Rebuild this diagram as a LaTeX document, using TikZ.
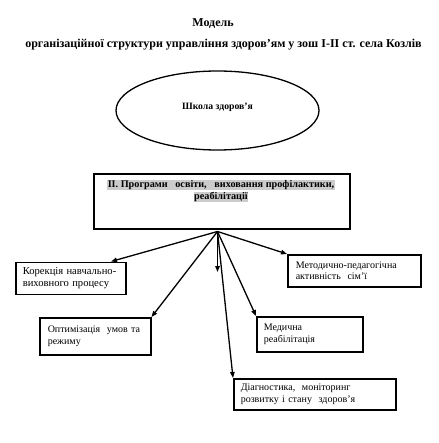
\documentclass[tikz,border=0pt]{standalone}
\usepackage{fontspec}
\setmainfont{Liberation Serif}
\usetikzlibrary{arrows.meta,shapes.geometric}
\begin{document}
\begin{tikzpicture}[x=1pt,y=-1pt,
  titlef/.style={font=\bfseries\fontsize{12}{14}\selectfont, inner sep=0pt},
  sbox/.style={draw, line width=1.5pt, anchor=north west, align=left, inner ysep=0pt, font=\fontsize{10}{11.5}\selectfont},
  arr/.style={-{Triangle[length=6pt,width=4.5pt]}, line width=1.3pt},
  hl/.style={fill=gray!40, inner sep=0.3pt, font=\bfseries\fontsize{10.2}{12}\selectfont}
]
\useasboundingbox (0,0) rectangle (438,443);
\node[titlef] (t1) at (213,24) {Модель};
\node[titlef] (t2) at (223.5,45) {організаційної структури управління здоров'ям у зош І-ІІ ст. села Козлів};
\node[draw, ellipse, line width=1.3pt, minimum width=203pt, minimum height=79pt, inner sep=0pt, text depth=8pt, font=\bfseries\fontsize{9.7}{11}\selectfont] (school) at (217.5,110.5) {Школа здоров'я};
\node[draw, line width=2pt, minimum width=256pt, minimum height=55pt, anchor=north west, inner sep=0pt] (prog) at (93,173) {};
\node[hl] (p1) at (221,185) {ІІ. Програми\ \ \ освіти,\ \ \ виховання профілактики,};
\node[hl] (p2) at (221,197) {реабілітації};
\coordinate (apex) at (217.5,231.5);
\coordinate (down) at (217.5,272);
\node[sbox, text width=96pt, inner xsep=7pt, minimum height=32pt] (kor) at (15,261.5) {\fontsize{10.6}{11.5}\selectfont Корекція~навчально-\\виховного~процесу};
\node[sbox, text width=95pt, inner xsep=8pt, minimum height=37pt] (opt) at (39,317) {Оптимізація~~умов~та\\режиму};
\node[sbox, text width=92pt, inner xsep=7pt, minimum height=35pt] (med) at (256,316) {Медична\\реабілітація};
\node[sbox, text width=148pt, inner xsep=7pt, minimum height=31pt] (diag) at (233,378) {Діагностика,~~моніторинг\\розвитку~і~стану~~здоров'я};
\node[sbox, text width=117pt, inner xsep=8pt, minimum height=32pt] (met) at (287,254) {Методично-педагогічна\\активність~~сім'ї};
\draw[arr] (apex) -- ([xshift=96pt]kor.north west);
\draw[arr] (apex) -- (opt.north east);
\draw[arr] (apex) -- (down);
\draw[arr] (apex) -- (diag.north west);
\draw[arr] (apex) -- (med.north west);
\draw[arr] (apex) -- (met.north west);
\end{tikzpicture}
\end{document}
